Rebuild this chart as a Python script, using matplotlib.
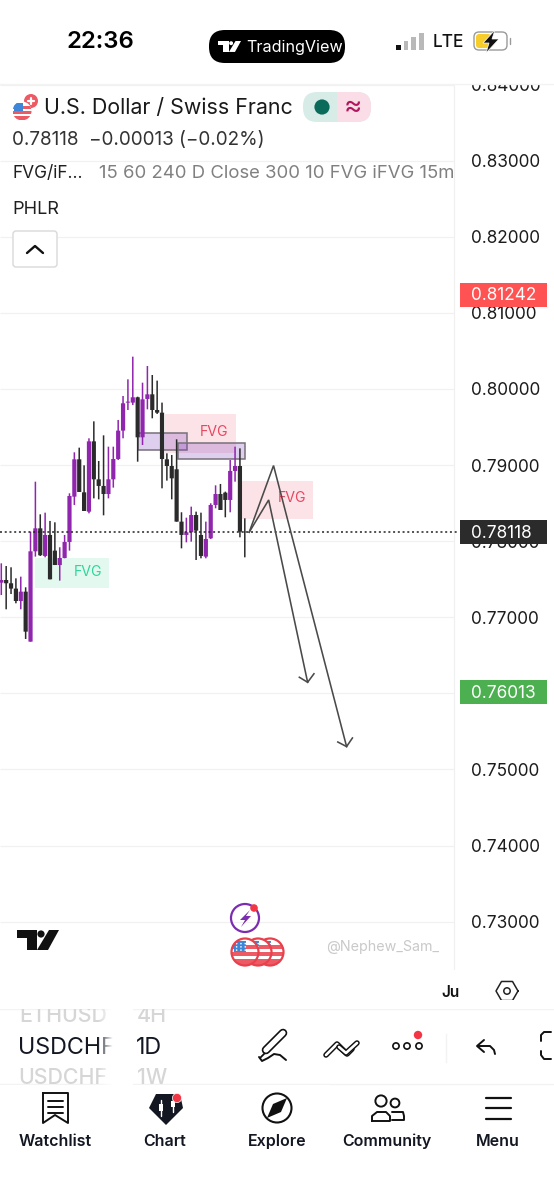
import numpy as np
import matplotlib
matplotlib.use('Agg')
import matplotlib.pyplot as plt
from matplotlib.patches import Rectangle, Circle, FancyBboxPatch, Polygon

plt.rcParams['font.family'] = ['Inter', 'DejaVu Sans']

# candles, left to right
opens = [.77455,.77490,.77447,.77377,.77214,.77337,.76680,.77867,.78169,.77806,.78082,.77876,.77687,.77779,.77990,.78585,.79076,.78642,.78388,.79312,.78813,.78726,.78620,.78813,.79080,.79453,.79821,.79821,.79891,.79365,.79869,.79930,.79724,.79689,.79076,.78988,.78945,.78257,.78082,.78117,.78344,.78082,.77797,.78038,.78476,.78620,.78638,.78542,.78923,.78988,.78125]
closes = [.77490,.77447,.77377,.77214,.77337,.76811,.77867,.78169,.77815,.78082,.77499,.77687,.77779,.77990,.78594,.79076,.78647,.78397,.79312,.78813,.78726,.78620,.78813,.79080,.79453,.79812,.79834,.79891,.79365,.79864,.79930,.79724,.79689,.79080,.78988,.78826,.78257,.78082,.78117,.78344,.78139,.77806,.78029,.78476,.78620,.78410,.78542,.78923,.78988,.78125,.78117]
highs = [.77709,.77674,.77657,.77512,.77534,.77394,.78125,.78782,.78353,.78375,.78266,.78248,.77920,.78082,.78629,.79168,.79229,.78997,.79352,.79575,.79054,.79391,.79242,.79242,.79593,.79908,.80127,.80425,.79899,.80083,.80302,.80184,.80110,.79821,.79155,.79133,.79339,.78380,.78309,.78454,.78388,.78375,.78257,.78498,.78734,.78752,.78651,.79067,.79242,.79220,.78301]
lows = [.77293,.77105,.77306,.77184,.77105,.76715,.76680,.77797,.77806,.77788,.77499,.77687,.77482,.77775,.77876,.78476,.78647,.78397,.78366,.78563,.78550,.78340,.78563,.78704,.79067,.79352,.79724,.79790,.79045,.79264,.79733,.79615,.79672,.78695,.78796,.78550,.78257,.77906,.77985,.77994,.77753,.77775,.77775,.78029,.78432,.78410,.78314,.78380,.78782,.78051,.77788]

price_ticks = [.84,.83,.82,.81,.80,.79,.78,.77,.76,.75,.74,.73]
last_price = 0.78118
price_tags = [(0.81242,'#ff5252'),(0.78118,'#2b2b2b'),(0.76013,'#4caf50')]

# FVG zones: bar from, bar to, price low, price high
red_fvg = [(33.6,48.2,.79159,.79671),(49.4,64.1,.78292,.78795)]
green_fvg = [(6.9,22.1,.77385,.77779)]
purple_boxes = [(28.1,38.1,.79198,.79426),(36.2,50.0,.79076,.79294)]
fvg_labels = [(43.7,.79435,'FVG','#e8475f'),(59.7,.78568,'FVG','#e8475f'),(17.8,.77595,'FVG','#2fd69b')]

# hand drawn arrows
arrow1_x = [50.9,55.9,70.9]
arrow1_y = [.78118,.78994,.75301]
arrow1_head_x = [69.1,70.9,72.1]
arrow1_head_y = [.75361,.75301,.75414]
arrow2_x = [50.9,54.9,62.9]
arrow2_y = [.78118,.78542,.76146]
arrow2_head_x = [61.2,62.9,64.2]
arrow2_head_y = [.76212,.76146,.76258]

fig = plt.figure(figsize=(5.54,12),dpi=100)
fig.patch.set_facecolor('white')

BAR=4.87
ax = fig.add_axes([0,(1200-970)/1200,1,(970-84)/1200])
ax.set_xlim(-1.3/BAR,(554-1.3)/BAR)
ax.set_ylim(0.72365,0.84008)
for s in ax.spines.values():
  s.set_visible(False)
ax.set_xticks([])
ax.yaxis.tick_right()
ax.set_yticks(price_ticks)
ax.set_yticklabels(['%.5f' % p for p in price_ticks],fontsize=12.4,color='#1c1c1c')
ax.tick_params(axis='y',length=0,pad=-59.8)

ax.hlines(price_ticks,ax.get_xlim()[0],(454-1.3)/BAR,color='#f1f1f1',lw=0.9,zorder=1)
ax.axvline((454-1.3)/BAR,color='#f0f0f0',lw=0.9,zorder=1)

for x0,x1,lo,hi in red_fvg:
  ax.add_patch(Rectangle((x0,lo),x1-x0,hi-lo,fc='#fce3e8',ec='none',zorder=1.2))
for x0,x1,lo,hi in green_fvg:
  ax.add_patch(Rectangle((x0,lo),x1-x0,hi-lo,fc='#e3f9f0',ec='none',zorder=1.2))
for x0,x1,lo,hi in purple_boxes:
  ax.add_patch(Rectangle((x0,lo),x1-x0,hi-lo,fc=(0.5,0.25,0.75,0.25),ec='#77707a',lw=1.1,zorder=1.4))
for x,y,t,c in fvg_labels:
  ax.text(x,y,t,color=c,fontsize=10.2,ha='center',va='center',zorder=1.6)

idx = np.arange(len(opens))
up = np.array(closes)>=np.array(opens)
colors = ['#9025ae' if u else '#2b2b2b' for u in up]
wicks = ax.vlines(idx,lows,highs,colors=colors,lw=1.1,zorder=2)
wicks.set_snap(False)
bottoms = np.minimum(opens,closes)
heights = np.abs(np.array(closes)-np.array(opens))
bars = ax.bar(idx,heights,bottom=bottoms,width=0.86,color=colors,zorder=2.1)
for b in bars:
  b.set_snap(False)

ax.plot([ax.get_xlim()[0],(459-1.3)/BAR],[last_price,last_price],color='#222222',lw=1.1,ls=(0,(1.3,1.8)),zorder=2.2)

for xs,ys,hx,hy in [(arrow1_x,arrow1_y,arrow1_head_x,arrow1_head_y),(arrow2_x,arrow2_y,arrow2_head_x,arrow2_head_y)]:
  ax.plot(xs,ys,color='#4a4a4a',lw=1.15,zorder=3,solid_joinstyle='miter')
  ax.plot(hx,hy,color='#4a4a4a',lw=1.15,zorder=3,solid_joinstyle='miter')

tr = ax.get_yaxis_transform()
for p,c in price_tags:
  ax.add_patch(Rectangle((459.5/554,p-0.00158),87/554,0.00315,transform=tr,fc=c,ec='none',zorder=4))
  ax.text(471.5/554,p-0.00018,'%.5f' % p,transform=tr,color='white',fontsize=12.4,ha='left',va='center',zorder=5)

# ---- app chrome, in screen pixels
ui = fig.add_axes([0,0,1,1],zorder=5)
ui.set_xlim(0,554)
ui.set_ylim(1200,0)
ui.axis('off')
ui.patch.set_visible(False)

def line(xs,ys,lw=1.4,c='#111111',z=6):
  ui.plot(xs,ys,color=c,lw=lw,zorder=z,solid_capstyle='round',solid_joinstyle='round')

def txt(x,y,s,size,c='#131722',ha='left',weight='normal',z=7):
  return ui.text(x,y+1.5,s,fontsize=size,color=c,ha=ha,va='center',fontweight=weight,zorder=z)

def rbox(x0,y0,x1,y1,r,fc,ec='none',lw=0,z=5):
  ui.add_patch(FancyBboxPatch((x0+r,y0+r),x1-x0-2*r,y1-y0-2*r,boxstyle='round,pad=%g,rounding_size=%g' % (r,r),fc=fc,ec=ec,lw=lw,zorder=z))

def tvlogo(x,y,w,c):
  # T, dot and slash of the TradingView mark
  s = w/42.0
  ui.add_patch(Polygon([(x,y),(x+20*s,y),(x+20*s,y+20*s),(x+10*s,y+20*s),(x+10*s,y+8*s),(x,y+8*s)],fc=c,ec='none',zorder=7))
  ui.add_patch(Circle((x+24*s,y+4*s),3.6*s,fc=c,ec='none',zorder=7))
  ui.add_patch(Polygon([(x+32*s,y),(x+42*s,y),(x+31*s,y+20*s),(x+20*s,y+20*s)],fc=c,ec='none',zorder=7))

def usflag(cx,cy,r,z=7,ring=True):
  clip = Circle((cx,cy),r,transform=ui.transData)
  ui.add_patch(Circle((cx,cy),r,fc='white',ec='none',zorder=z))
  for y0,h in [(-0.55,0.3),(0.0,0.28),(0.55,0.45)]:
    b = Rectangle((cx-r,cy+y0*r),2*r,h*r,fc='#ee5a63',ec='none',zorder=z+0.1)
    ui.add_patch(b)
    b.set_clip_path(clip)
  c = Rectangle((cx-r*0.85,cy-r*0.85),r*0.95,r*0.85,fc='#3d86d8',ec='none',zorder=z+0.2)
  ui.add_patch(c)
  c.set_clip_path(clip)
  if ring:
    # star field
    for i in range(3):
      for j in range(3):
        ui.add_patch(Circle((cx-r*0.62+i*r*0.32,cy-r*0.62+j*r*0.24),r*0.06,fc='white',ec='none',zorder=z+0.25))
    ui.add_patch(Circle((cx,cy),r,fc='none',ec='#e8404c',lw=1.6,zorder=z+0.3))

ui.add_patch(Rectangle((0,0),554,84,fc='white',ec='none',zorder=4))
ui.add_patch(Rectangle((0,970),554,230,fc='white',ec='none',zorder=4))
ui.plot([0,554],[84,84],color='#f3f3f3',lw=1,zorder=4.5)

# status bar
txt(100,41,'22:36',17.2,c='#000000',ha='center',weight='semibold')
rbox(209,30,345,63,16,'#000000')
tvlogo(218,41,23,'white')
txt(246,46,'TradingView',11.6,c='white')
for k,(h,c) in enumerate([(5,'#111111'),(9,'#b9b9b9'),(13,'#b9b9b9'),(17,'#b9b9b9')]):
  ui.add_patch(Rectangle((396+k*7.7,50-h),4.6,h,fc=c,ec='none',zorder=6))
txt(433,41,'LTE',12.4,c='#111111',weight='medium')
rbox(474,32,507,50,5,'white',ec='#9a9a9a',lw=1)
rbox(476,34,491,48,3,'#f7cd2c',z=5.5)
ui.add_patch(Polygon([(495,30),(483,43),(489,43),(486,53),(499,39),(492,39)],fc='#111111',ec='white',lw=0.5,zorder=6))
line([510,510],[38,44],lw=1,c='#9a9a9a')

# legend block
ui.add_patch(Circle((31,101),7,fc='#ee5a63',ec='none',zorder=6))
line([28,34],[101,101],lw=1.6,c='white',z=6.1)
line([31,31],[98,104],lw=1.6,c='white',z=6.1)
usflag(22,111,9.5,z=6.3,ring=False)
txt(44,107,'U.S. Dollar / Swiss Franc',15.4,c='#1a1a1a')
rbox(303,92,371,122,14,'#d8ece7')
rbox(337,92,371,122,14,'#fbdde7',z=5.2)
ui.add_patch(Rectangle((337,92),12,30,fc='#fbdde7',ec='none',zorder=5.2))
ui.add_patch(Circle((322,107),7.6,fc='#0b6b5a',ec='none',zorder=6))
txt(353,106,'≈',20,c='#b0185e',ha='center')
txt(12,139,'0.78118  −0.00013 (−0.02%)',13.6,c='#333333')
txt(13,172,'FVG/iF...',12.5,c='#1f1f1f')
g = txt(99,172,'15 60 240 D Close 300 10 FVG iFVG 15m',13.3,c='#808080')
g.set_clip_on(True)
g.set_clip_path(Rectangle((0,0),453,1200,transform=ui.transData))
txt(12.5,208,'PHLR',13,c='#1f1f1f')
rbox(13,231,57,267,3,'white',ec='#d9d9d9',lw=1)
line([27,35,43],[253,246,253],lw=1.7,c='#111111')

# bottom of the chart pane
tvlogo(17,930,42,'#111111')
ui.add_patch(Circle((245,918),14,fc='none',ec='#7b2cb0',lw=1.6,zorder=6))
ui.add_patch(Polygon([(250,910),(240,920),(245,920),(241,927),(251,916),(246,916)],fc='#7b2cb0',ec='none',zorder=6.1))
ui.add_patch(Circle((254,908),3.8,fc='#f23645',ec='none',zorder=6.2))
usflag(270,952,13.5,z=6)
usflag(258,952,13.5,z=6.5)
usflag(245,952,13.5,z=7)
txt(326,945,'@Nephew_Sam_',10.3,c='#c9c9c9')
t = txt(441,991,'Ju',11,c='#111111',weight='semibold')
t.set_clip_on(True)
t.set_clip_path(Rectangle((0,0),459,1200,transform=ui.transData))
a = np.deg2rad(np.arange(0,361,60))
ui.plot(507+11*np.cos(a),991+11*np.sin(a),color='#222222',lw=1.1,zorder=6)
ui.add_patch(Circle((507,991),3.2,fc='none',ec='#222222',lw=1.1,zorder=6))

# symbol picker
ui.plot([0,554],[1009,1009],color='#f3f3f3',lw=1,zorder=5)
ui.plot([0,554],[1084,1084],color='#f3f3f3',lw=1,zorder=5)
txt(19,1015,'ETHUSD',15.4,c='#d6d6d6',weight='medium')
txt(137,1015,'4H',15.4,c='#d6d6d6',weight='medium')
txt(18,1046,'USDCHF',16.8,c='#131722')
txt(136,1046,'1D',16.8,c='#131722')
txt(18,1076,'USDCHF',15.4,c='#d6d6d6',weight='medium')
txt(137,1076,'1W',15.4,c='#d6d6d6',weight='medium')
ui.add_patch(Rectangle((0,1000),554,9,fc='white',ec='none',zorder=7.5))
ui.add_patch(Rectangle((0,1084.5),330,4.5,fc='white',ec='none',zorder=7.5))
fade = np.ones((1,20,4))
fade[0,:,3] = np.linspace(0,1,20)
ui.imshow(fade,extent=(97,113,1089,1009),aspect='auto',zorder=7.6)
ui.add_patch(Rectangle((113,1009),20,80,fc='white',ec='none',zorder=7.6))
ui.set_xlim(0,554)
ui.set_ylim(1200,0)

# drawing toolbar
line([266,283],[1050,1033],lw=6.2,c='#111111')
line([266,283],[1050,1033],lw=3.8,c='white',z=6.1)
line([260,266],[1058,1052],lw=1.3)
line([259,262,268,274,280,286],[1057,1061,1058,1054,1055,1060],lw=1.4)
line([326,337,347,352],[1055,1044,1054,1049],lw=4,c='#111111',z=6)
line([326,337,347,352],[1055,1044,1054,1049],lw=1.9,c='white',z=6.1)
line([339,346,357],[1047,1053,1043],lw=4,c='#111111',z=6.2)
line([339,346,357],[1047,1053,1043],lw=1.9,c='white',z=6.3)
for x in [396,407,419]:
  ui.add_patch(Circle((x,1046),3.1,fc='white',ec='#111111',lw=1.2,zorder=6))
ui.add_patch(Circle((418,1035),4.2,fc='#f23645',ec='none',zorder=6.2))
ui.plot([446,446],[1034,1062],color='#f3f3f3',lw=1,zorder=5)
line([484,477,484],[1040,1046,1052],lw=1.4)
line([478,490,494,495],[1046,1046,1050,1054],lw=1.4)
line([551,544,541,541],[1032,1032,1035,1041],lw=1.4)
line([541,541,544,551],[1051,1055,1059,1059],lw=1.4)

# tab bar
txt(55.5,1140,'Watchlist',11.5,weight='semibold',ha='center')
txt(165,1140,'Chart',11.5,weight='semibold',ha='center')
txt(277,1140,'Explore',11.5,weight='semibold',ha='center')
txt(387,1140,'Community',11.5,weight='semibold',ha='center')
txt(498,1140,'Menu',11.5,weight='semibold',ha='center')

line([43,68,68,55,43,43],[1093,1093,1123,1115,1123,1093],lw=1.4)
for y in [1101,1107,1113]:
  line([48,63],[y,y],lw=1.4)

ui.add_patch(Polygon([(156,1094),(180,1094),(183,1108),(166,1125),(149,1108)],fc='#131722',ec='none',zorder=6))
line([161,161],[1100,1116],lw=1,c='white',z=6.1)
ui.add_patch(Rectangle((159,1104),4,7,fc='white',ec='none',zorder=6.2))
line([173,173],[1097,1112],lw=1,c='white',z=6.1)
ui.add_patch(Rectangle((171,1101),4,6,fc='white',ec='none',zorder=6.2))
ui.add_patch(Circle((177,1098),4.6,fc='#f23645',ec='white',lw=0.5,zorder=6.3))

ui.add_patch(Circle((277,1108),14.5,fc='none',ec='#111111',lw=1.5,zorder=6))
ui.add_patch(Polygon([(287,1098),(281,1112),(267,1118),(273,1104)],fc='#111111',ec='none',zorder=6))

ui.add_patch(Circle((381,1101),5.6,fc='none',ec='#111111',lw=1.4,zorder=6))
ui.add_patch(Circle((395,1103),4.4,fc='none',ec='#111111',lw=1.4,zorder=6))
line([372,372,377,386,390,390,372],[1121,1116,1112,1112,1116,1121,1121],lw=1.4)
line([392,403,404,404,392],[1112,1112,1116,1120,1120],lw=1.4)

for y in [1098,1108,1119]:
  line([486,511],[y,y],lw=1.6)

fig.savefig('out.png',dpi=100)
plt.close(fig)
